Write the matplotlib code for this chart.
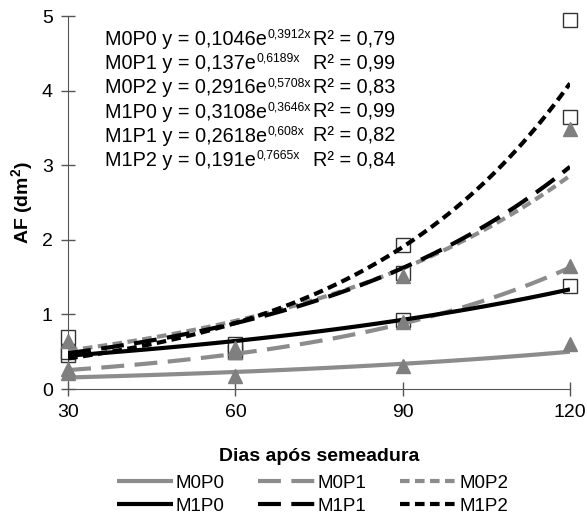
import numpy as np
import matplotlib
matplotlib.use("Agg")
import matplotlib.pyplot as plt

plt.rcParams["font.family"] = ["Liberation Sans", "DejaVu Sans"]
plt.rcParams["mathtext.fontset"] = "custom"
plt.rcParams["mathtext.rm"] = "Liberation Sans"
plt.rcParams["mathtext.bf"] = "Liberation Sans:bold"

# days after sowing (trend lines use x = 1..4, as in the spreadsheet fit)
days = [30, 60, 90, 120]
series = ["M0P0", "M0P1", "M0P2", "M1P0", "M1P1", "M1P2"]

# observed leaf area (dm²)
m0p0 = [0.22, 0.18, 0.31, 0.60]
m0p1 = [0.27, 0.50, 0.90, 1.65]
m0p2 = [0.65, 0.55, 1.52, 3.48]
m1p0 = [0.46, 0.60, 0.92, 1.38]
m1p1 = [0.50, 0.50, 1.55, 3.65]
m1p2 = [0.70, 0.55, 1.93, 4.95]
observed = [m0p0, m0p1, m0p2, m1p0, m1p1, m1p2]

# exponential fits y = a * e^(b x)
coef_a = [0.1046, 0.137, 0.2916, 0.3108, 0.2618, 0.191]
coef_b = [0.3912, 0.6189, 0.5708, 0.3646, 0.608, 0.7665]
a_text = ["0,1046", "0,137", "0,2916", "0,3108", "0,2618", "0,191"]
b_text = ["0,3912", "0,6189", "0,5708", "0,3646", "0,608", "0,7665"]
r2_text = ["0,79", "0,99", "0,83", "0,99", "0,82", "0,84"]

GRAY = "#8c8c8c"
colors = [GRAY, GRAY, GRAY, "black", "black", "black"]
dashes = [None, (5.5, 2.5), (2.3, 1.3), None, (5.5, 2.5), (2.3, 1.3)]

fig = plt.figure(figsize=(5.87, 5.18), dpi=100)
W, H = fig.get_size_inches() * fig.dpi
ax = fig.add_axes([0.116, 0.249, 0.855, 0.72])

xs = np.linspace(1, 4, 100)
handles = []
for i, name in enumerate(series):
    ys = coef_a[i] * np.exp(coef_b[i] * xs)
    (ln,) = ax.plot(xs * 30, ys, color=colors[i], lw=3, label=name,
                    solid_capstyle="butt", dash_capstyle="butt", zorder=3)
    if dashes[i] is not None:
        ln.set_dashes(dashes[i])
    handles.append(ln)

for i, vals in enumerate(observed):
    if i < 3:
        ax.plot(days, vals, ls="none", marker="^", ms=10, mfc="#7f7f7f",
                mec="#7f7f7f", clip_on=False, zorder=4)
    else:
        ax.plot(days, vals, ls="none", marker="s", ms=9.5, mfc="white",
                mec="#333333", mew=1.0, clip_on=False, zorder=2)

ax.set_xlim(30, 120)
ax.set_ylim(0, 5)
ax.set_xticks(days)
ax.set_yticks(range(0, 6))
for s in ["top", "right"]:
    ax.spines[s].set_visible(False)
for s in ["left", "bottom"]:
    ax.spines[s].set_color("#555555")
ax.tick_params(direction="inout", length=10, width=1, color="#555555",
               labelsize=14, pad=6)
ax.set_xlabel("Dias após semeadura", fontsize=14, fontweight="bold", labelpad=19)
ax.set_ylabel("AF (dm$^\\mathbf{2}$)", fontsize=14, fontweight="bold", labelpad=4)

# equations, exponent drawn as a separate smaller raised text
renderer = fig.canvas.get_renderer()
for i, name in enumerate(series):
    yb = 0.913 - i * 0.0467
    t = fig.text(0.179, yb, f"{name} y = {a_text[i]}e", fontsize=14.3,
                 va="baseline")
    bb = t.get_window_extent(renderer)
    fig.text(bb.x1 / W + 0.001, yb + 7.3 / H, f"{b_text[i]}x", fontsize=8.8,
             va="baseline")
    fig.text(0.533, yb, f"R² = {r2_text[i]}", fontsize=14.3, va="baseline")

order = [0, 3, 1, 4, 2, 5]
fig.legend([handles[k] for k in order], [series[k] for k in order],
           loc="upper center", bbox_to_anchor=(0.532, 0.084), ncol=3,
           frameon=False, fontsize=13.5, handlelength=3.0, handletextpad=0.15,
           columnspacing=1.8, labelspacing=0.32, borderaxespad=0, borderpad=0)

fig.savefig("out.png", dpi=100)
